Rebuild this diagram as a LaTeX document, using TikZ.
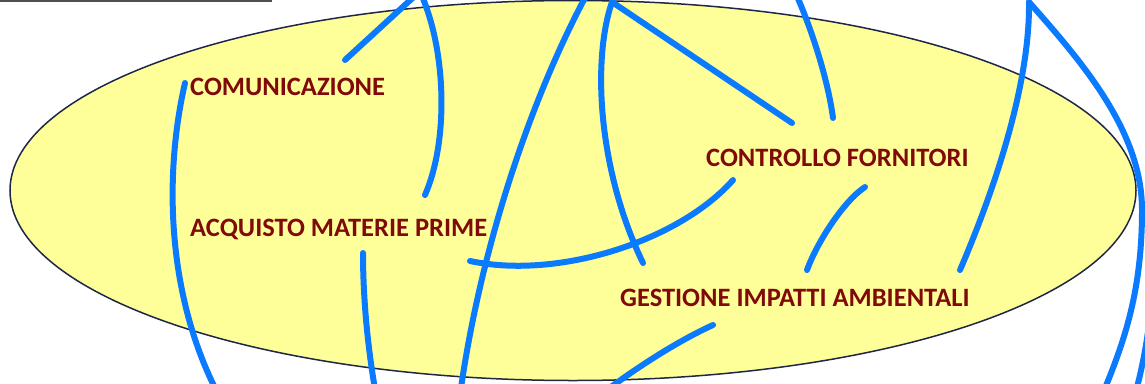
\documentclass[tikz,border=0pt]{standalone}
\usepackage{fontspec}
\setmainfont{Carlito}
\usetikzlibrary{shapes.geometric}
\definecolor{ellfill}{RGB}{255,255,153}
\definecolor{elldraw}{RGB}{30,40,70}
\definecolor{linkblue}{RGB}{10,122,255}
\definecolor{labelred}{RGB}{128,10,10}
\definecolor{rulegray}{RGB}{80,80,80}
\tikzset{
  link/.style={draw=linkblue, line width=6pt, line cap=round},
  lbl/.style={anchor=west, inner sep=0pt, text=labelred, font=\bfseries\fontsize{26.5}{30}\selectfont},
}
\begin{document}
\begin{tikzpicture}[x=1pt,y=-1pt]
\useasboundingbox (0,0) rectangle (1145,383);
\fill[white] (0,0) rectangle (1145,383);
\draw[rulegray, line width=2pt] (0,0.5) -- (272,0.5);
\node[draw=elldraw, fill=ellfill, line width=1.5pt, ellipse, minimum width=1126pt, minimum height=380pt, inner sep=0pt] (ell) at (573,190.5) {};
% text labels
\node[lbl] (com) at (190,87) {COMUNICAZIONE};
\node[lbl] (cf) at (706,158) {CONTROLLO FORNITORI};
\node[lbl] (amp) at (190,229) {ACQUISTO MATERIE PRIME};
\node[lbl] (gia) at (620,298) {GESTIONE IMPATTI AMBIENTALI};
% coordinates
\coordinate (a1) at (185,83);   \coordinate (a2) at (217,392);
\coordinate (b1) at (345,60);   \coordinate (b2) at (418,-7);
\coordinate (c1) at (421,-6);   \coordinate (c2) at (425,195);
\coordinate (d1) at (587,-6);   \coordinate (d2) at (460,395);
\coordinate (top) at (612,2);   \coordinate (e2) at (643,263);
\coordinate (f2) at (792,123);
\coordinate (g1) at (796,-6);   \coordinate (g2) at (833,118);
\coordinate (h1) at (470,261);  \coordinate (h2) at (733,180);
\coordinate (i1) at (865,187);  \coordinate (i2) at (807,270);
\coordinate (j1) at (960,270);  \coordinate (apex) at (1029,2);
\coordinate (k1) at (1142,210); \coordinate (k2) at (1103,393);
\coordinate (l1) at (1152,290); \coordinate (l2) at (1135,395);
\coordinate (m1) at (713,325);  \coordinate (m2) at (600,395);
\coordinate (n1) at (363,253);  \coordinate (n2) at (376,395);
\coordinate (topin) at (612,-8);
% links
\draw[link] (a1) .. controls (165,170) and (165,290) .. (a2);
\draw[link] (b1) -- (b2);
\draw[link] (c1) .. controls (446,50) and (449,140) .. (c2);
\draw[link] (d1) .. controls (530,100) and (480,250) .. (d2);
\draw[link] (topin) -- (top) .. controls (592,60) and (598,170) .. (e2);
\draw[link] (top) -- (f2);
\draw[link] (g1) .. controls (812,30) and (828,80) .. (g2);
\draw[link] (h1) .. controls (560,280) and (680,240) .. (h2);
\draw[link] (i1) .. controls (845,200) and (818,240) .. (i2);
\draw[link] (j1) .. controls (990,200) and (1030,90) .. (apex);
\draw[link] (apex) .. controls (1080,60) and (1142,130) .. (k1) .. controls (1142,290) and (1125,340) .. (k2);
\draw[link] (l1) .. controls (1150,330) and (1143,365) .. (l2);
\draw[link] (m1) .. controls (680,340) and (640,365) .. (m2);
\draw[link] (n1) .. controls (363,300) and (368,350) .. (n2);
\end{tikzpicture}
\end{document}
